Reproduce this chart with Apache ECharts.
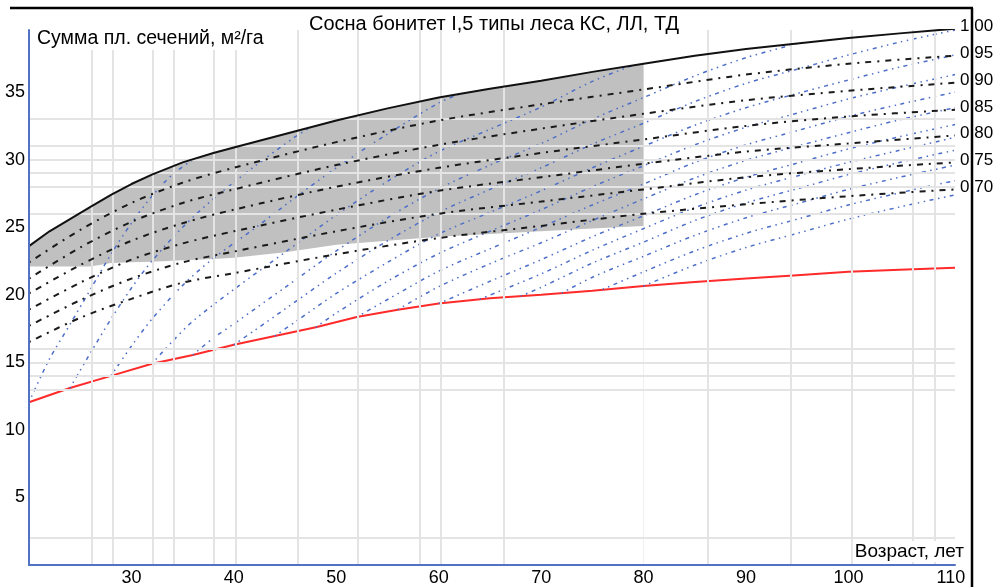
<!DOCTYPE html>
<html><head><meta charset="utf-8">
<script src="https://cdn.jsdelivr.net/npm/echarts@6/dist/echarts.min.js"></script>
<style>html,body{margin:0;padding:0;background:#fff}#c{width:993px;height:587px}</style>
</head><body><div id="c"></div>
<script>
// ---------- data ----------
const titleText = 'Сосна бонитет I,5 типы леса КС, ЛЛ, ТД';
const yName = 'Сумма пл. сечений, м²/га';
const xName = 'Возраст, лет';

// relative density 1.00 (upper curve)
const topAges = [20,22,24,26,28,30,32,35,38,40,45,50,55,60,65,70,75,80,85,90,95,100,105,110.4];
const topValues = [23.6,24.7,25.6,26.5,27.4,28.2,28.9,29.8,30.5,30.9,31.9,32.9,33.8,34.6,35.25,35.85,36.5,37.1,37.7,38.2,38.6,39.0,39.35,39.7];

// grey zone: lower boundary (upper boundary = 1.00 curve)
const grayAges = [20,22,24,26,28,30,32,35,38,40,45,50,55,60,65,70,75,80];
const grayBottom = [22.1,22.1,22.1,22.1,22.35,22.4,22.45,22.55,22.65,22.75,23.15,23.7,24.0,24.3,24.5,24.7,24.9,25.1];

// relative density lines
const densityAges = [20,25,30,35,40,50,60,70,80,90,100,110.4];
const densityLabels = ['0,95','0,90','0,85','0,80','0,75','0,70'];
const d95 = [22.4,24.8,26.8,28.3,29.4,31.3,32.9,34.1,35.2,36.3,37.1,37.7];
const d90 = [21.2,23.5,25.4,26.8,27.8,29.6,31.1,32.3,33.4,34.4,35.1,35.7];
const d85 = [20.1,22.2,24.0,25.3,26.3,28.0,29.4,30.5,31.5,32.5,33.2,33.7];
const d80 = [18.9,20.9,22.6,23.8,24.7,26.3,27.7,28.7,29.7,30.6,31.2,31.8];
const d75 = [17.7,19.6,21.2,22.4,23.2,24.7,26.0,26.9,27.8,28.7,29.3,29.8];
const d70 = [16.5,18.3,19.7,20.9,21.6,23.0,24.2,25.1,26.0,26.7,27.3,27.8];

// red curve
const redAges = [20,24,28,32,36,40,44,48,52,56,60,65,70,75,80,85,90,95,100,105,110.4];
const redValues = [12.05,13.1,14.0,14.9,15.55,16.3,16.95,17.6,18.35,18.9,19.35,19.75,20.0,20.3,20.65,20.95,21.2,21.45,21.7,21.85,22.0];

// blue growth trajectories [age, value]
const blueLines = [
 [[20,12.05],[22,15.25],[24,17.8],[26,20.4],[28,23.0],[30,25.3],[32,27.3],[34,28.9],[36,30.0]],
 [[24,13.1],[26,15.7],[28,18.2],[30,20.5],[32,22.5],[35,25.0],[38,27.1],[42,29.5],[46,31.7],[47.5,32.4]],
 [[28,14.0],[30,16.2],[32,18.2],[35,20.7],[38,22.7],[42,24.9],[46,27.2],[50,29.4],[55,31.9],[60,34.2],[62,34.85]],
 [[32,14.9],[34,16.55],[36,18.05],[40,20.4],[45,23.15],[50,25.9],[55,28.4],[60,30.6],[65,32.25],[70,33.9],[75,35.8],[79,37.0]],
 [[36,15.55],[38,16.8],[40,17.85],[45,20.55],[50,23.25],[55,25.7],[60,27.85],[65,29.6],[70,31.2],[75,33.0],[80,34.6],[85,36.2],[90,37.55],[95,38.6]],
 [[40,16.3],[42,17.35],[45,18.95],[50,21.6],[55,24.0],[60,26.1],[65,27.8],[70,29.4],[75,31.15],[80,32.7],[85,34.3],[90,35.65],[95,36.7],[100,37.75],[105,38.7],[110.4,39.6]],
 [[44,16.95],[46,18.0],[50,20.1],[55,22.4],[60,24.5],[65,26.1],[70,27.7],[75,29.4],[80,31.0],[85,32.55],[90,33.85],[95,34.9],[100,35.9],[105,36.85],[110.4,37.75]],
 [[48,17.6],[50,18.65],[55,21.0],[60,23.05],[65,24.7],[70,26.3],[75,28.0],[80,29.55],[85,31.1],[90,32.4],[95,33.45],[100,34.5],[105,35.4],[110.4,36.3]],
 [[52,18.35],[55,19.65],[60,21.75],[65,23.4],[70,25.0],[75,26.65],[80,28.2],[85,29.8],[90,31.1],[95,32.15],[100,33.2],[105,34.1],[110.4,35.0]],
 [[56,18.9],[60,20.6],[65,22.3],[70,23.85],[75,25.5],[80,27.1],[85,28.65],[90,29.95],[95,31.0],[100,32.0],[105,32.95],[110.4,33.85]],
 [[60,19.35],[65,21.0],[70,22.6],[75,24.3],[80,25.85],[85,27.4],[90,28.7],[95,29.75],[100,30.8],[105,31.7],[110.4,32.6]],
 [[64,19.67],[70,21.55],[75,23.3],[80,24.9],[85,26.45],[90,27.75],[95,28.8],[100,29.8],[105,30.7],[110.4,31.65]],
 [[68,19.9],[70,20.55],[75,22.35],[80,23.9],[85,25.5],[90,26.8],[95,27.85],[100,28.9],[105,29.8],[110.4,30.7]],
 [[72,20.12],[75,21.3],[80,22.85],[85,24.4],[90,25.7],[95,26.75],[100,27.8],[105,28.7],[110.4,29.6]],
 [[76,20.4],[80,21.7],[85,23.25],[90,24.55],[95,25.6],[100,26.65],[105,27.55],[110.4,28.45]],
 [[80,20.65],[85,22.2],[90,23.5],[95,24.55],[100,25.6],[105,26.5],[110.4,27.4]]
];

// light grid lines (irregular)
const gridX = [26.15,28.2,32.1,34.15,38.05,40.2,46.25,52.1,58.15,60.2,66.3,86.3,94.4,100.35,106.3,108.45];
const gridY = [33,31,30,29,28,26,16,15,14,13,2];

// axis ranges
const X_MIN = 20, X_MAX = 110.4, X_INT = 10;
const Y_MIN = 0, Y_MAX = 39.6, Y_INT = 5;

// ---------- chart ----------
const FONT = '"Liberation Sans", Arial, sans-serif';
const AXIS_BLUE = '#5071c4';
const pairs = (xs, ys) => xs.map((x, i) => [x, ys[i]]);
const series = [];

// grey zone: grey area under the 1.00 curve (to age 80), then white area under its lower boundary
series.push({
  type: 'line', data: grayAges.map(a => [a, topValues[topAges.indexOf(a)]]), symbol: 'none',
  lineStyle: { opacity: 0 }, areaStyle: { color: '#c0c0c0', opacity: 1, origin: 'start' }, silent: true, z: 1
});
series.push({
  type: 'line', data: pairs(grayAges, grayBottom), symbol: 'none',
  lineStyle: { opacity: 0 }, areaStyle: { color: '#ffffff', opacity: 1, origin: 'start' }, silent: true, z: 1.5
});

series.push({
  type: 'line', data: [], silent: true, z: 2,
  markLine: {
    silent: true, symbol: ['none', 'none'], animation: false, label: { show: false },
    lineStyle: { color: '#e4e4e4', width: 2, type: 'solid' },
    emphasis: { disabled: true },
    data: [
      ...gridX.map(x => [{ coord: [x, Y_MIN] }, { coord: [x, Y_MAX] }]),
      ...gridY.map(y => [{ coord: [X_MIN, y] }, { coord: [X_MAX, y] }])
    ]
  }
});

series.push({
  type: 'line', data: pairs(redAges, redValues), symbol: 'none', z: 3,
  lineStyle: { color: '#ff2a2a', width: 2 }
});

blueLines.forEach(line => series.push({
  type: 'line', data: line, symbol: 'none', smooth: 0.3, z: 4,
  lineStyle: { color: '#4d6ec8', width: 1.5, type: [1.5, 4.5, 1.5, 4.5, 4, 4.5] }
}));

[d95, d90, d85, d80, d75, d70].forEach((vals, i) => series.push({
  type: 'line', data: pairs(densityAges, vals), symbol: 'none', smooth: 0.3, z: 5,
  lineStyle: { color: '#1a1a1a', width: 2, type: [2, 6, 6, 6] },
  endLabel: { show: true, formatter: densityLabels[i], color: '#000', fontSize: 17, fontFamily: FONT, distance: 5, offset: [0, -2] }
}));

series.push({
  type: 'line', data: pairs(topAges, topValues), symbol: 'none', z: 6,
  lineStyle: { color: '#111', width: 2 },
  endLabel: { show: true, formatter: '1,00', color: '#000', fontSize: 17, fontFamily: FONT, distance: 5, offset: [0, -2] }
});

const chart = echarts.init(document.getElementById('c'), null, { renderer: 'canvas' });
chart.setOption({
  animation: false,
  backgroundColor: '#fff',
  title: {
    text: titleText, left: 489, textAlign: 'center', top: 9,
    textStyle: { fontFamily: FONT, fontSize: 20, fontWeight: 'normal', color: '#000' }
  },
  grid: { left: 29, right: 38, top: 30, bottom: 20, containLabel: false },
  xAxis: {
    type: 'value', min: X_MIN, max: X_MAX, interval: X_INT, z: 10,
    axisLine: { show: true, lineStyle: { color: AXIS_BLUE, width: 2 } },
    axisTick: { show: false }, splitLine: { show: false },
    axisLabel: { showMinLabel: false, showMaxLabel: false, margin: 4, color: '#000', fontSize: 18, fontFamily: FONT }
  },
  yAxis: {
    type: 'value', min: Y_MIN, max: Y_MAX, interval: Y_INT, z: 10,
    axisLine: { show: true, lineStyle: { color: AXIS_BLUE, width: 2 } },
    axisTick: { show: false }, splitLine: { show: false },
    axisLabel: { showMinLabel: false, showMaxLabel: false, margin: 4, color: '#000', fontSize: 18, fontFamily: FONT }
  },
  graphic: [
    { type: 'text', z: 100, left: 34, top: 28,
      style: { text: yName, font: '19.5px ' + FONT, fill: '#000', backgroundColor: '#fff', padding: [1, 3] } },
    { type: 'text', z: 100, right: 27, top: 541,
      style: { text: xName, font: '19px ' + FONT, fill: '#000', backgroundColor: '#fff', padding: [1, 2] } },
    { type: 'line', z: 101, shape: { x1: 10, y1: 8, x2: 973, y2: 8 }, style: { stroke: '#000', lineWidth: 2.5 } },
    { type: 'line', z: 101, shape: { x1: 972, y1: 8, x2: 972, y2: 587 }, style: { stroke: '#000', lineWidth: 2.5 } }
  ],
  series
});
</script></body></html>
